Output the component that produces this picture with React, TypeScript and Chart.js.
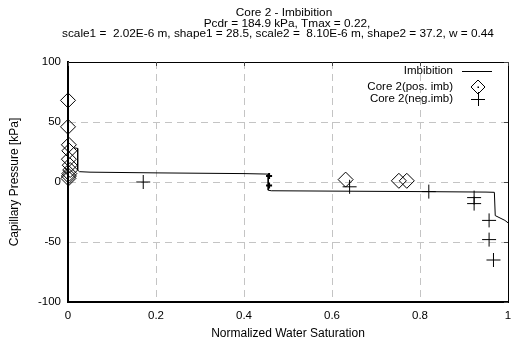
import React, { useEffect, useRef } from "react";
import { Chart, registerables } from "chart.js";

Chart.register(...registerables);

const titleLines = [
  "Core 2 - Imbibition",
  "Pcdr = 184.9 kPa, Tmax = 0.22,",
  "scale1 =  2.02E-6 m, shape1 = 28.5, scale2 =  8.10E-6 m, shape2 = 37.2, w = 0.44",
];
const xAxisTitle = "Normalized Water Saturation";
const yAxisTitle = "Capillary Pressure [kPa]";
const legendLabels = ["Imbibition", "Core 2(pos. imb)", "Core 2(neg.imb)"];

// Imbibition model curve
const curveX = [0.014, 0.022, 0.022, 0.026, 0.05, 0.2, 0.4, 0.455, 0.455, 0.462, 0.6, 0.8, 0.95, 0.969, 0.971, 0.993, 1.0];
const curveY = [28.5, 28, 10, 8.6, 8.2, 7.6, 7, 6.6, -6.8, -7.3, -7.6, -8, -8.4, -8.6, -28, -32, -34];

// Core 2 positive imbibition
const posX = [0, 0, 0.002, 0.003, 0.002, 0.004, 0.005, 0.003, 0.002, 0.001, 0.631, 0.752, 0.77];
const posY = [68, 46, 31, 26, 19, 14, 10, 7, 5, 3, 2, 1, 1];

// Core 2 negative imbibition
const negX = [0.171, 0.64, 0.82, 0.923, 0.923, 0.957, 0.957, 0.967];
const negY = [0, -4, -8, -13, -18, -32, -48, -65];

// small marks at the step of the curve
const markX = [0.457, 0.457];
const markY = [5, -3];

const xTicks = [0, 0.2, 0.4, 0.6, 0.8, 1];
const yTicks = [-100, -50, 0, 50, 100];

const FONT = "'Liberation Sans', Arial, sans-serif";
const FS_AXIS = 12;
const FS_TICK = 11.5;
const FS_TITLE = 11.8;
const FS_LEG = 11.5;

export default function App() {
  const ref = useRef<HTMLCanvasElement | null>(null);

  useEffect(() => {
    document.body.style.margin = "0";
    const canvas = ref.current;
    if (!canvas) return;

    const overlay = {
      id: "overlay",
      afterDraw(chart: any) {
        const ctx = chart.ctx;
        const a = chart.chartArea;
        const xs = chart.scales.x;
        const ys = chart.scales.y;
        ctx.save();
        // frame top/right
        ctx.strokeStyle = "#000";
        ctx.lineWidth = 1;
        ctx.beginPath();
        ctx.moveTo(a.left, a.top + 0.5);
        ctx.lineTo(a.right + 0.5, a.top + 0.5);
        ctx.lineTo(a.right + 0.5, a.bottom);
        ctx.stroke();
        // inward ticks on top and right
        ctx.strokeStyle = "#444";
        ctx.beginPath();
        xTicks.forEach((t) => {
          const px = Math.round(xs.getPixelForValue(t)) + 0.5;
          ctx.moveTo(px, a.top);
          ctx.lineTo(px, a.top + 4);
        });
        yTicks.forEach((t) => {
          const py = Math.round(ys.getPixelForValue(t)) + 0.5;
          ctx.moveTo(a.right, py);
          ctx.lineTo(a.right - 4, py);
        });
        ctx.stroke();

        // title
        ctx.fillStyle = "#000";
        ctx.font = `${FS_TITLE}px ${FONT}`;
        ctx.textAlign = "center";
        ctx.textBaseline = "middle";
        const cx = (a.left + a.right) / 2;
        const offs = [-4, -1, -10];
        const ty = [13, 24, 34];
        titleLines.forEach((t, i) => ctx.fillText(t, cx + offs[i], ty[i]));

        // legend
        ctx.font = `${FS_LEG}px ${FONT}`;
        const textRight = a.right - 55;
        const symX = a.right - 30;
        const rows = [a.top + 9, a.top + 25, a.top + 37];
        ctx.textAlign = "right";
        legendLabels.forEach((t, i) => ctx.fillText(t, textRight, rows[i]));
        ctx.strokeStyle = "#000";
        ctx.lineWidth = 1;
        ctx.beginPath();
        ctx.moveTo(symX - 16, rows[0] + 0.5);
        ctx.lineTo(symX + 14, rows[0] + 0.5);
        ctx.stroke();
        const r = 7;
        ctx.beginPath();
        ctx.moveTo(symX - r, rows[1]);
        ctx.lineTo(symX, rows[1] - r);
        ctx.lineTo(symX + r, rows[1]);
        ctx.lineTo(symX, rows[1] + r);
        ctx.closePath();
        ctx.stroke();
        ctx.fillRect(symX - 0.5, rows[1] - 0.5, 1.5, 1.5);
        ctx.beginPath();
        ctx.moveTo(symX - r, rows[2] + 0.5);
        ctx.lineTo(symX + r, rows[2] + 0.5);
        ctx.moveTo(symX + 0.5, rows[2] - r);
        ctx.lineTo(symX + 0.5, rows[2] + r);
        ctx.stroke();
        ctx.restore();
      },
    };

    const gridColor = (c: any) => {
      const v = c.tick ? c.tick.value : 0;
      const s = c.scale;
      if (v === s.min || v === s.max) return "rgba(0,0,0,0)";
      return "#c4c4c4";
    };

    const chart = new Chart(canvas, {
      type: "scatter",
      data: {
        datasets: [
          {
            label: legendLabels[0],
            data: curveX.map((x, i) => ({ x, y: curveY[i] })),
            showLine: true,
            borderColor: "#000",
            borderWidth: 1,
            pointRadius: 0,
            tension: 0,
            clip: false as any,
          },
          {
            label: legendLabels[1],
            data: posX.map((x, i) => ({ x, y: posY[i] })),
            pointStyle: "rectRot",
            pointRadius: 7.5,
            borderColor: "#000",
            borderWidth: 1,
            backgroundColor: "rgba(0,0,0,0)",
            clip: false as any,
          },
          {
            label: legendLabels[2],
            data: negX.map((x, i) => ({ x, y: negY[i] })),
            pointStyle: "cross",
            pointRadius: 7,
            borderColor: "#000",
            borderWidth: 1,
            clip: false as any,
          },
          {
            label: "marks",
            data: markX.map((x, i) => ({ x, y: markY[i] })),
            pointStyle: "cross",
            pointRadius: 3,
            borderColor: "#000",
            borderWidth: 2,
            clip: false as any,
          },
        ],
      },
      options: {
        responsive: false,
        animation: false,
        events: [],
        layout: { autoPadding: false, padding: { left: 0, right: 5, top: 62, bottom: 0 } },
        plugins: {
          legend: { display: false },
          title: { display: false },
          tooltip: { enabled: false },
        },
        scales: {
          x: {
            type: "linear",
            min: 0,
            max: 1,
            afterBuildTicks: (s: any) => {
              s.ticks = xTicks.map((v) => ({ value: v }));
            },
            afterFit: (s: any) => {
              s.height = 45;
              s.paddingLeft = 0;
              s.paddingRight = 0;
            },
            ticks: {
              padding: 7,
              color: "#000",
              font: { family: FONT, size: FS_TICK },
              callback: (v: any) => String(v),
              maxRotation: 0,
            },
            grid: {
              color: gridColor,
              lineWidth: 1,
              drawTicks: false,
            },
            border: { color: "#000", width: 2, dash: [7, 5] } as any,
            title: {
              display: true,
              text: xAxisTitle,
              color: "#000",
              font: { family: FONT, size: FS_AXIS },
              padding: { top: 0, bottom: 6 },
            },
          },
          y: {
            type: "linear",
            min: -100,
            max: 100,
            afterBuildTicks: (s: any) => {
              s.ticks = yTicks.map((v) => ({ value: v }));
            },
            afterFit: (s: any) => {
              s.width = 68;
              s.paddingTop = 0;
              s.paddingBottom = 0;
            },
            ticks: {
              padding: 7,
              color: "#000",
              font: { family: FONT, size: FS_TICK },
              callback: (v: any) => String(v),
            },
            grid: {
              color: gridColor,
              lineWidth: 1,
              drawTicks: false,
            },
            border: { color: "#000", width: 2, dash: [7, 5] } as any,
            title: {
              display: true,
              text: yAxisTitle,
              color: "#000",
              font: { family: FONT, size: FS_AXIS },
              padding: { top: 7, bottom: 0 },
            },
          },
        },
      },
      plugins: [overlay],
    });

    return () => chart.destroy();
  }, []);

  return (
    <div style={{ width: 513, height: 347 }}>
      <canvas ref={ref} width={513} height={347} style={{ display: "block", width: 513, height: 347 }} />
    </div>
  );
}
